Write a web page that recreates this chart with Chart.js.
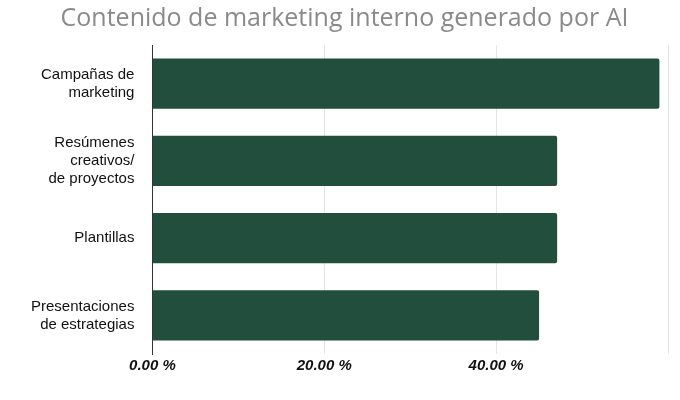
<!DOCTYPE html>
<html>
<head>
<meta charset="utf-8">
<script src="https://cdn.jsdelivr.net/npm/chart.js@4"></script>
<style>
  body { margin: 0; background: #fff; }
  #wrap { width: 680px; height: 400px; }
</style>
</head>
<body>
<div id="wrap"><canvas id="grafico"></canvas></div>
<script>
let categorias = [
  ["Campañas de", "marketing"],
  ["Resúmenes", "creativos/", "de proyectos"],
  "Plantillas",
  ["Presentaciones", "de estrategias"]
];
let valores = [59.0, 47.1, 47.1, 45.0];
let ticksMostrados = [0, 20, 40];

let ctx = document.getElementById("grafico").getContext("2d");

new Chart(ctx, {
  type: "bar",
  data: {
    labels: categorias,
    datasets: [
      {
        data: valores,
        backgroundColor: "#224f3d",
        categoryPercentage: 0.9,
        barPercentage: 0.72,
        borderRadius: 2,
      },
    ],
  },
  options: {
    indexAxis: "y",
    responsive: true,
    maintainAspectRatio: false,
    animation: false,
    layout: { padding: { left: 21, right: 12, top: 4, bottom: 22 } },
    plugins: {
      legend: { display: false },
      tooltip: { enabled: false },
      title: {
        display: true,
        text: "Contenido de marketing interno generado por AI",
        color: "#8a8a8a",
        font: { family: "Open Sans", size: 25, weight: "normal" },
        padding: { top: 0, bottom: 11 },
      },
    },
    scales: {
      x: {
        min: 0,
        max: 60,
        ticks: {
          stepSize: 20,
          color: "#111",
          font: { family: "Liberation Sans", size: 15, weight: "bold", style: "italic" },
          callback: (v) => (ticksMostrados.includes(v) ? v.toFixed(2) + " %" : ""),
        },
        grid: { color: "#e4e4e4", drawTicks: false },
        border: { display: false },
      },
      y: {
        ticks: {
          color: "#111",
          font: { family: "Liberation Sans", size: 15 },
          padding: 10,
        },
        grid: { display: false },
        border: { color: "#333", width: 1 },
      },
    },
  },
});
</script>
</body>
</html>
